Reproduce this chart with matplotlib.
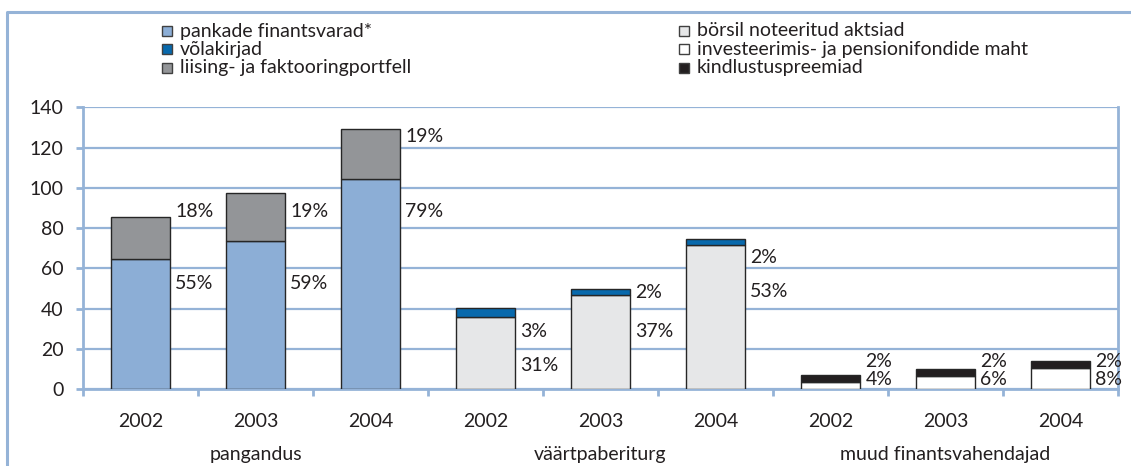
import matplotlib
matplotlib.use('Agg')
import matplotlib.pyplot as plt
from matplotlib.patches import Rectangle
from matplotlib.transforms import blended_transform_factory
import numpy as np

plt.rcParams['font.family'] = ['Lato', 'DejaVu Sans']
plt.rcParams['font.style'] = 'normal'
plt.rcParams['font.weight'] = 'normal'
plt.rcParams['font.size'] = 14

# data
years = ['2002', '2003', '2004']
groups = ['pangandus', 'väärtpaberiturg', 'muud finantsvahendajad']

pankade = [64.5, 73.4, 104.2]
liising = [21.0, 23.9, 25.0]
borsil = [36.0, 46.9, 71.6]
volakirjad = [4.1, 2.9, 3.0]
fondid = [3.6, 6.6, 10.6]
kindlustus = [3.4, 3.3, 3.3]

pct_lower = ['55%', '59%', '79%', '31%', '37%', '53%', '4%', '6%', '8%']
pct_upper = ['18%', '19%', '19%', '3%', '2%', '2%', '2%', '2%', '2%']

# heights where the percentage labels sit
lower_y = [52.5, 52.5, 88, 11.9, 28.8, 48.4, 4.5, 4.5, 4.5]
upper_y = [88, 88, 125.4, 28.8, 47.9, 65.5, 13.6, 13.6, 13.6]

legend_left = ['pankade finantsvarad*', 'võlakirjad',
               'liising- ja faktooringportfell']
legend_right = ['börsil noteeritud aktsiad',
                'investeerimis- ja pensionifondide maht',
                'kindlustuspreemiad']

c_pank = '#8CAED6'
c_vola = '#0869AC'
c_liis = '#939598'
c_bors = '#E6E7E8'
c_fond = '#FFFFFF'
c_kind = '#231F20'
edge = '#262626'
grid_c = '#95B3D7'
txt_c = '#231F20'

W, H = 1131, 466
fig = plt.figure(figsize=(W / 100, H / 100), dpi=100)
ax = fig.add_axes([83 / W, 1 - 389 / H, 1035 / W, 281.7 / H])

# outer frame
fig.add_artist(plt.Line2D([6.5 / W, 6.5 / W, 1.0], [0.0, 1 - 11.7 / H, 1 - 11.7 / H],
                          transform=fig.transFigure, color=grid_c, lw=2.2))

x = np.arange(9)
w = 0.51
kw = dict(width=w, edgecolor=edge, linewidth=1.0, zorder=3)

ax.bar(x[0:3], pankade, color=c_pank, **kw)
ax.bar(x[0:3], liising, bottom=pankade, color=c_liis, **kw)
ax.bar(x[3:6], borsil, color=c_bors, **kw)
ax.bar(x[3:6], volakirjad, bottom=borsil, color=c_vola, **kw)
ax.bar(x[6:9], fondid, color=c_fond, **kw)
ax.bar(x[6:9], kindlustus, bottom=fondid, color=c_kind, **kw)

for i in range(9):
    ax.annotate(pct_lower[i], (x[i] + w / 2, lower_y[i]), xytext=(4, 0),
                textcoords='offset points', va='center', ha='left',
                color=txt_c, zorder=4)
    ax.annotate(pct_upper[i], (x[i] + w / 2, upper_y[i]), xytext=(4, 0),
                textcoords='offset points', va='center', ha='left',
                color=txt_c, zorder=4)

ax.set_xlim(-0.5, 8.5)
ax.set_ylim(0, 140)
ax.set_yticks(np.arange(0, 141, 20))
ax.yaxis.grid(True, color=grid_c, lw=1.6, zorder=0)
ax.set_axisbelow(True)

for s in ['left', 'bottom', 'right']:
    ax.spines[s].set_color(grid_c)
    ax.spines[s].set_linewidth(2)
ax.spines['top'].set_visible(False)

ax.set_xticks(np.arange(-0.5, 9, 1))
ax.set_xticklabels([])
ax.set_xticks(x, minor=True)
ax.set_xticklabels(years * 3, minor=True)
ax.tick_params(axis='x', which='major', direction='out', length=5,
               color=grid_c, width=2)
ax.tick_params(axis='x', which='minor', length=0, pad=17, colors=txt_c)
ax.tick_params(axis='y', direction='out', length=5, width=2,
               pad=9, labelcolor=txt_c, color=grid_c)

trans = blended_transform_factory(ax.transData, ax.transAxes)
for g, name in enumerate(groups):
    ax.text(3 * g + 1, -0.234, name, transform=trans, ha='center',
            va='center', color=txt_c)

# legend, two columns of square swatches
def legend_column(x0, labels, colors):
    for k, (lab, col) in enumerate(zip(labels, colors)):
        yc = 31 + k * 18.3
        fig.add_artist(Rectangle((x0 / W, 1 - (yc + 5) / H), 10 / W, 10 / H,
                                 transform=fig.transFigure, facecolor=col,
                                 edgecolor='#404040', lw=1))
        fig.text((x0 + 18) / W, 1 - yc / H, lab, ha='left', va='center',
                 color=txt_c)

legend_column(162, legend_left, [c_pank, c_vola, c_liis])
legend_column(679, legend_right, [c_bors, c_fond, c_kind])

fig.savefig('out.png', dpi=100)
